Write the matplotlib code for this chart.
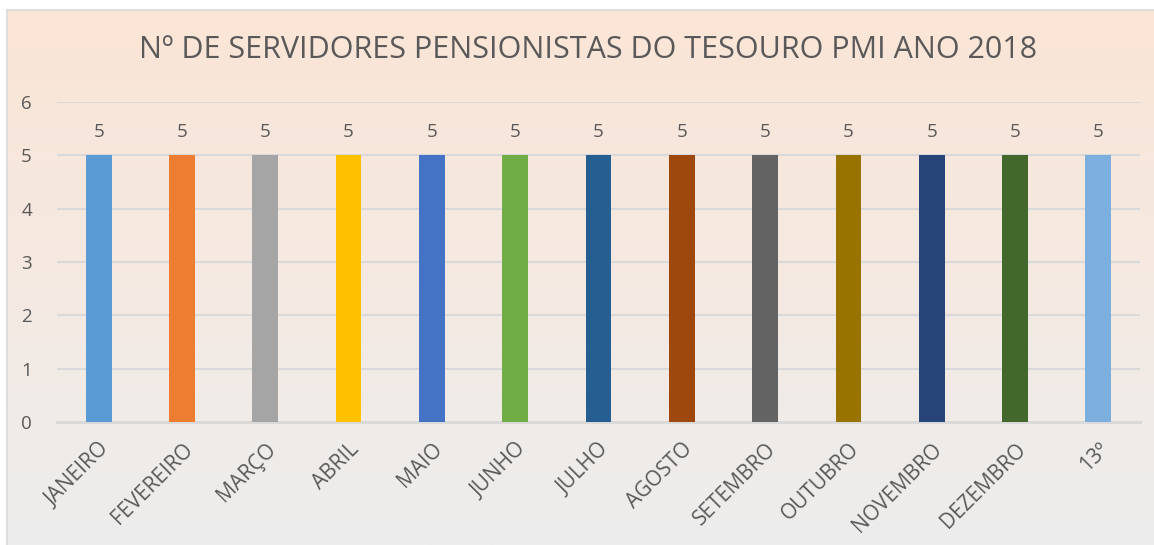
import matplotlib.pyplot as plt
import numpy as np
from matplotlib.colors import LinearSegmentedColormap

months = ["JANEIRO", "FEVEREIRO", "MARÇO", "ABRIL", "MAIO", "JUNHO", "JULHO",
          "AGOSTO", "SETEMBRO", "OUTUBRO", "NOVEMBRO", "DEZEMBRO", "13º"]
servidores = [5, 5, 5, 5, 5, 5, 5, 5, 5, 5, 5, 5, 5]
bar_colors = ["#5B9BD5", "#ED7D31", "#A5A5A5", "#FFC000", "#4472C4", "#70AD47", "#255E91",
              "#9E480E", "#636363", "#997300", "#264478", "#43682B", "#7CAFDD"]

plt.rcParams["font.family"] = ["Open Sans", "DejaVu Sans"]
text_color = "#595959"

W, H = 1154, 545
fig = plt.figure(figsize=(W / 100, H / 100), dpi=100)

# gradient background of the chart frame
x0, y0 = 7, 10
bg = fig.add_axes([x0 / W, 0, 1 - x0 / W, 1 - y0 / H])
cmap = LinearSegmentedColormap.from_list("bg", ["#FBE5D6", "#EDEDED"])
bg.imshow(np.linspace(0, 1, 256).reshape(-1, 1), aspect="auto", cmap=cmap,
          extent=[0, 1, 0, 1])
bg.set_xlim(0, 1)
bg.set_ylim(0, 1)
for side in ["top", "left"]:
    bg.spines[side].set_color("#D9D9D9")
    bg.spines[side].set_linewidth(1.2)
for side in ["right", "bottom"]:
    bg.spines[side].set_visible(False)
bg.set_xticks([])
bg.set_yticks([])

ax = fig.add_axes([57 / W, 1 - 422 / H, (1140 - 57) / W, (422 - 102) / H])
ax.patch.set_alpha(0)
x = np.arange(len(months))
ax.bar(x, servidores, width=0.31, color=bar_colors, zorder=3)
for xi, v in zip(x, servidores):
    ax.text(xi, v + 0.27, str(v), ha="center", va="bottom", fontsize=13.5, color=text_color)

ax.set_xlim(-0.5, len(months) - 0.5)
ax.set_ylim(0, 6)
ax.set_yticks(range(0, 7))
ax.yaxis.grid(True, color="#D9D9D9", linewidth=1.5, zorder=0)
ax.tick_params(axis="y", length=0, pad=18, labelsize=13.5, labelcolor=text_color)
ax.tick_params(axis="x", length=0, pad=12, labelsize=15, labelcolor=text_color)
ax.set_xticks(x)
ax.set_xticklabels(months, rotation=45, ha="right", rotation_mode="anchor")
for side in ["top", "right", "left"]:
    ax.spines[side].set_visible(False)
ax.spines["bottom"].set_color("#D9D9D9")
ax.spines["bottom"].set_linewidth(2)

fig.text(588 / W, 1 - 50 / H, "Nº DE SERVIDORES PENSIONISTAS DO TESOURO PMI ANO 2018",
         ha="center", va="center", fontsize=22, color=text_color)

fig.savefig("out.png", dpi=100)
